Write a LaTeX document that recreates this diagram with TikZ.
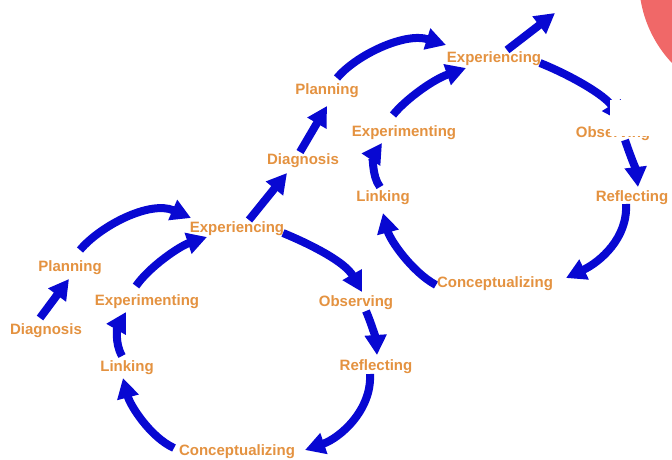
\documentclass[tikz,border=0pt]{standalone}
\usepackage{fontspec}
\setmainfont{Liberation Sans}
\usetikzlibrary{arrows.meta,calc}
\definecolor{arrblue}{RGB}{8,8,210}
\definecolor{lblorange}{RGB}{228,146,64}
\definecolor{redc}{RGB}{240,104,104}
\pgfdeclarelayer{bg}
\pgfdeclarelayer{fg}
\pgfsetlayers{bg,main,fg}
\tikzset{
  lbl/.style={text=lblorange, font=\fontsize{15}{15}\selectfont\bfseries, inner sep=1pt, text height=11pt, text depth=3pt},
  arr/.style={draw=arrblue, line width=8pt, -{Triangle[length=20pt,width=21pt]}},
}
\begin{document}
\begin{tikzpicture}[x=1pt,y=-1pt]
\useasboundingbox (0,0) rectangle (672,459);
\begin{pgfonlayer}{bg}
\fill[white] (0,0) rectangle (672,459);
\begin{scope}
\clip (0,0) rectangle (672,459);
\fill[redc] (760,-20) circle (121);
\end{scope}
\end{pgfonlayer}
% lower cycle
\node[lbl] (d1) at (46,330) {Diagnosis};
\node[lbl] (p1) at (70,267) {Planning};
\node[lbl] (x1) at (147,301) {Experimenting};
\node[lbl] (e1) at (237,228) {Experiencing};
\node[lbl] (o1) at (356,302) {Observing};
\node[lbl] (r1) at (376,366) {Reflecting};
\node[lbl] (c1) at (237,451) {Conceptualizing};
\node[lbl] (l1) at (127,367) {Linking};
% upper cycle
\node[lbl] (d2) at (303,160) {Diagnosis};
\node[lbl] (p2) at (327,90) {Planning};
\node[lbl] (x2) at (404,132) {Experimenting};
\node[lbl] (e2) at (494,58) {Experiencing};
\node[lbl] (o2) at (613,133) {Observing};
\node[lbl] (r2) at (632,197) {Reflecting};
\node[lbl] (c2) at (495,283) {Conceptualizing};
\node[lbl] (l2) at (383,197) {Linking};
\coordinate (ex) at (555,13);
\begin{pgfonlayer}{bg}
% lower cycle arrows
\draw[arr] ($(d1)+(-6,-12)$) -- ($(p1)+(-1,12)$);
\draw[arr] ($(p1)+(10,-17)$) .. controls (100,226) and (150,200) .. ($(e1)+(-46,-10)$);
\draw[arr] ($(x1)+(-11,-15)$) .. controls (150,266) and (180,246) .. ($(e1)+(-30,9)$);
\draw[arr] ($(e1)+(46,5)$) .. controls (312,245) and (345,262) .. ($(o1)+(6,-10)$);
\draw[arr] ($(o1)+(10,9)$) .. controls (372,325) and (376,340) .. ($(r1)+(1,-11)$);
\draw[arr] ($(r1)+(-6,8)$) .. controls (372,410) and (340,438) .. ($(c1)+(68,-1)$);
\draw[arr] ($(c1)+(-63,-3)$) .. controls (150,437) and (130,405) .. ($(l1)+(-4,11)$);
\draw[arr] ($(l1)+(-5,-11)$) .. controls (114,342) and (118,326) .. ($(x1)+(-21,11)$);
% link between cycles
\draw[arr] ($(e1)+(12,-8)$) -- ($(d2)+(-16,13)$);
\draw[arr] ($(d2)+(-3,-8)$) -- ($(p2)+(0,16)$);
% upper cycle arrows
\draw[arr] ($(p2)+(10,-12)$) .. controls (356,55) and (405,32) .. ($(e2)+(-48,-13)$);
\draw[arr] ($(x2)+(-11,-17)$) .. controls (405,100) and (432,80) .. ($(e2)+(-28,10)$);
\draw[arr] ($(e2)+(13,-8)$) -- (ex);
\draw[arr] ($(e2)+(46,5)$) .. controls (570,75) and (605,95) .. ($(o2)+(9,-11)$);
\draw[arr] ($(o2)+(12,7)$) .. controls (630,155) and (636,170) .. ($(r2)+(6,-10)$);
\draw[arr] ($(r2)+(-6,7)$) .. controls (628,238) and (600,262) .. ($(c2)+(71,-5)$);
\draw[arr] ($(c2)+(-59,2)$) .. controls (412,272) and (390,240) .. ($(l2)+(0,16)$);
\draw[arr] ($(l2)+(-3,-10)$) .. controls (371,175) and (374,155) .. ($(x2)+(-22,11)$);
\end{pgfonlayer}
\begin{pgfonlayer}{fg}
\fill[white] (610,100) rectangle (672,136);
\end{pgfonlayer}
\end{tikzpicture}
\end{document}
